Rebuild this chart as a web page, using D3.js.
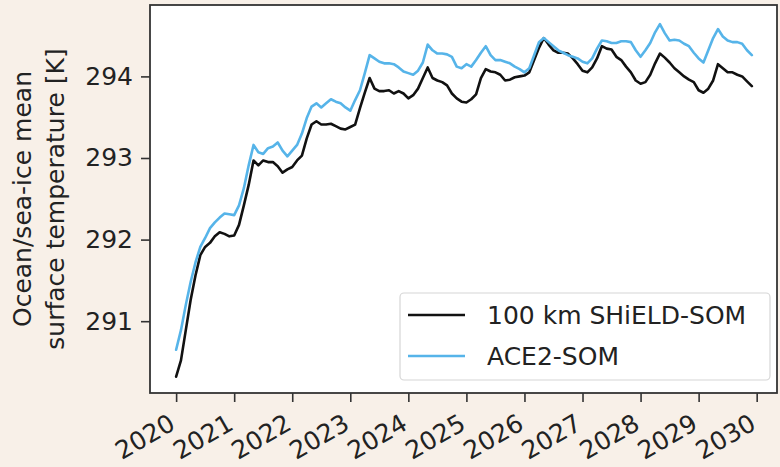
<!DOCTYPE html>
<html>
<head>
<meta charset="utf-8">
<script src="https://cdn.jsdelivr.net/npm/d3@7"></script>
<style>
  html, body { margin: 0; padding: 0; background: #f8f0e8; }
  svg { display: block; }
  text { font-family: "DejaVu Sans", sans-serif; fill: #222; }
</style>
</head>
<body>
<svg id="chart" width="780" height="467"></svg>
<script>
// ---- data (monthly values, Jan 2020 .. Dec 2029) ----
const startYear = 2020;
const shieldSOM = [
  290.32, 290.52, 290.89, 291.26, 291.56, 291.81, 291.91, 291.96, 292.04, 292.09, 292.07, 292.04,
  292.05, 292.18, 292.42, 292.67, 292.97, 292.91, 292.97, 292.95, 292.95, 292.90, 292.82, 292.86,
  292.89, 292.97, 293.03, 293.24, 293.41, 293.45, 293.41, 293.41, 293.42, 293.39, 293.36, 293.35,
  293.38, 293.41, 293.61, 293.80, 293.98, 293.85, 293.82, 293.82, 293.83, 293.79, 293.82, 293.79,
  293.73, 293.77, 293.85, 293.98, 294.11, 293.98, 293.95, 293.93, 293.89, 293.79, 293.73, 293.69,
  293.68, 293.72, 293.78, 293.98, 294.09, 294.06, 294.05, 294.02, 293.95, 293.96, 293.99, 294.00,
  294.01, 294.05, 294.20, 294.35, 294.47, 294.39, 294.32, 294.29, 294.29, 294.28, 294.22, 294.15,
  294.07, 294.05, 294.11, 294.22, 294.37, 294.34, 294.33, 294.24, 294.20, 294.12, 294.05, 293.95,
  293.91, 293.93, 294.02, 294.16, 294.28, 294.23, 294.17, 294.10, 294.05, 294.00, 293.96, 293.93,
  293.83, 293.80, 293.85, 293.95, 294.15, 294.10, 294.05, 294.05, 294.02, 294.00, 293.94, 293.88
];
const ace2SOM = [
  290.65, 290.89, 291.20, 291.48, 291.72, 291.91, 292.02, 292.14, 292.21, 292.27, 292.32, 292.31,
  292.30, 292.42, 292.63, 292.91, 293.16, 293.07, 293.05, 293.12, 293.14, 293.19, 293.09, 293.02,
  293.09, 293.16, 293.30, 293.49, 293.63, 293.67, 293.62, 293.67, 293.72, 293.69, 293.67, 293.62,
  293.58, 293.71, 293.83, 294.04, 294.26, 294.22, 294.18, 294.16, 294.16, 294.15, 294.11, 294.06,
  294.04, 294.02, 294.07, 294.17, 294.39, 294.32, 294.28, 294.28, 294.27, 294.24, 294.12, 294.10,
  294.15, 294.12, 294.20, 294.29, 294.37, 294.26, 294.20, 294.20, 294.18, 294.16, 294.12, 294.09,
  294.05, 294.10, 294.26, 294.42, 294.47, 294.42, 294.37, 294.32, 294.29, 294.26, 294.24, 294.22,
  294.18, 294.16, 294.22, 294.34, 294.44, 294.43, 294.41, 294.41, 294.43, 294.43, 294.42, 294.32,
  294.24, 294.32, 294.41, 294.54, 294.64, 294.53, 294.44, 294.45, 294.44, 294.40, 294.37, 294.29,
  294.22, 294.17, 294.32, 294.47, 294.58, 294.49, 294.44, 294.42, 294.42, 294.40, 294.32, 294.26
];
const xTicks = [2020, 2021, 2022, 2023, 2024, 2025, 2026, 2027, 2028, 2029, 2030];
const yTicks = [291, 292, 293, 294];
const seriesNames = ["100 km SHiELD-SOM", "ACE2-SOM"];
const seriesColors = ["#111111", "#56b4e9"];
const yLabelLines = ["Ocean/sea-ice mean", "surface temperature [K]"];

(function () {
  // ---- layout ----
  const pL = 150, pR = 777, pT = 5, pB = 393;
  const svg = d3.select("#chart");

  const x = d3.scaleLinear().domain([2019.55, 2030.35]).range([pL, pR]);
  const y = d3.scaleLinear().domain([290.12, 294.875]).range([pB, pT]);

  svg.append("rect").attr("x", pL).attr("y", pT)
    .attr("width", pR - pL).attr("height", pB - pT).attr("fill", "#ffffff");

  const toPts = arr => arr.map((v, i) => [startYear + i / 12, v]);
  const line = d3.line().x(d => x(d[0])).y(d => y(d[1]));

  [shieldSOM, ace2SOM].forEach((s, k) => {
    svg.append("path").datum(toPts(s))
      .attr("d", line).attr("fill", "none")
      .attr("stroke", seriesColors[k]).attr("stroke-width", 2.6)
      .attr("stroke-linejoin", "round").attr("stroke-linecap", "round");
  });

  // x axis
  const xAxis = svg.append("g").attr("transform", `translate(0,${pB})`)
    .call(d3.axisBottom(x).tickValues(xTicks).tickSize(9).tickFormat(d3.format("d")));
  xAxis.select(".domain").remove();
  xAxis.selectAll(".tick line").attr("stroke", "#333").attr("stroke-width", 1.6);
  xAxis.selectAll(".tick text")
    .attr("font-size", 25).attr("fill", "#222")
    .attr("text-anchor", "end")
    .attr("dominant-baseline", "central")
    .attr("x", 0).attr("y", 0).attr("dy", null)
    .attr("transform", "translate(-4,28) rotate(-30)");

  // y axis
  const yAxis = svg.append("g").attr("transform", `translate(${pL},0)`)
    .call(d3.axisLeft(y).tickValues(yTicks).tickSize(9).tickPadding(8).tickFormat(d3.format("d")));
  yAxis.select(".domain").remove();
  yAxis.selectAll(".tick line").attr("stroke", "#333").attr("stroke-width", 1.6);
  yAxis.selectAll(".tick text").attr("font-size", 25).attr("fill", "#222");

  // frame
  svg.append("rect").attr("x", pL).attr("y", pT)
    .attr("width", pR - pL).attr("height", pB - pT)
    .attr("fill", "none").attr("stroke", "#333").attr("stroke-width", 1.8);

  // y label
  const yl = svg.append("text")
    .attr("transform", `translate(0,${(pT + pB) / 2}) rotate(-90)`)
    .attr("text-anchor", "middle").attr("font-size", 25).attr("fill", "#333");
  yl.append("tspan").attr("x", 0).attr("y", 31).text(yLabelLines[0]);
  yl.append("tspan").attr("x", 0).attr("y", 64).text(yLabelLines[1]);

  // legend
  const lg = svg.append("g");
  lg.append("rect").attr("x", 400).attr("y", 293).attr("width", 370).attr("height", 87)
    .attr("rx", 4).attr("fill", "#ffffff").attr("fill-opacity", 0.85)
    .attr("stroke", "#d6d6d6").attr("stroke-width", 1.2);
  seriesNames.forEach((name, k) => {
    const cy = 315 + k * 41;
    lg.append("line").attr("x1", 408).attr("x2", 465).attr("y1", cy).attr("y2", cy)
      .attr("stroke", seriesColors[k]).attr("stroke-width", 2.6);
    lg.append("text").attr("x", 487).attr("y", cy).attr("dominant-baseline", "central")
      .attr("font-size", 25).attr("fill", "#222").text(name);
  });
})();
</script>
</body>
</html>
